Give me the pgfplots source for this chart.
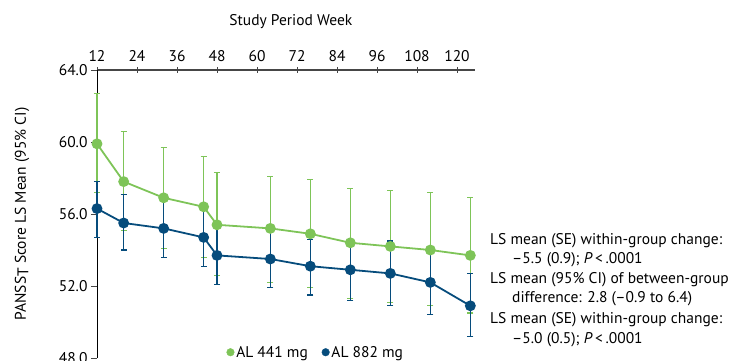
\documentclass[border=0pt]{standalone}
\usepackage{fontspec}
\setmainfont{PT Sans}
\usepackage{pgfplots}
\usepackage{pgfplotstable}
\pgfplotsset{compat=1.18}
\definecolor{alg}{RGB}{126,196,88}
\definecolor{alb}{RGB}{6,76,124}
\definecolor{axgray}{RGB}{70,70,70}
\pgfplotstableread{
x y ep em
12 59.9 2.8 2.7
20 57.8 2.8 2.7
32 56.9 2.8 2.8
44 56.4 2.8 2.8
48 55.4 2.9 2.8
64 55.2 2.9 3.0
76 54.9 3.0 3.0
88 54.4 3.0 3.1
100 54.2 3.1 3.1
112 54.0 3.2 3.1
124 53.7 3.2 3.2
}\greendata
\pgfplotstableread{
x y ep em
12 56.3 1.5 1.6
20 55.5 1.6 1.5
32 55.2 1.6 1.6
44 54.7 1.6 1.6
48 53.7 1.6 1.6
64 53.5 1.6 1.6
76 53.1 1.5 1.6
88 52.9 1.7 1.7
100 52.7 1.8 1.8
112 52.2 1.8 1.8
124 50.9 1.8 1.7
}\bluedata
\newcommand\myfont{\fontsize{15.5bp}{18bp}\selectfont}
\begin{document}
\begin{tikzpicture}[font=\myfont]
\useasboundingbox (-97bp,-3bp) rectangle (634bp,358bp);
\begin{axis}[
  at={(0,0)}, anchor=south west,
  scale only axis, width=378bp, height=288bp,
  font=\myfont,
  xmin=12, xmax=125.4, ymin=48, ymax=64,
  axis x line=top, axis y line=left,
  x axis line style={axgray, line width=1.2pt, -},
  y axis line style={black, line width=0.8pt, -},
  xtick={12,24,...,120},
  xticklabels={12,24,36,48,60,72,84,96,108,120},
  ytick={48,52,56,60,64},
  yticklabels={48.0,52.0,56.0,60.0,64.0},
  major tick length=6bp,
  tick style={axgray, line width=0.9pt},
  xtick align=center,
  ytick align=outside,
  xticklabel style={yshift=2bp, font=\myfont},
  yticklabel style={font=\myfont},
  clip=false,
  xlabel={Study Period Week},
  every axis x label/.style={at={(axis description cs:0.513,1.167)}, anchor=center, font=\myfont},
  ylabel={PANSS\raisebox{-0.3ex}{T} Score LS Mean (95\% CI)},
  every axis y label/.style={at={(axis description cs:-0.198,0.5)}, rotate=90, anchor=center, font=\myfont},
  legend style={at={(axis description cs:0.579,0.02)}, anchor=center, draw=none, fill=none,
    legend columns=2, /tikz/every even column/.append style={column sep=12bp},
    inner sep=0pt, font=\myfont},
  legend cell align=left,
]
\addlegendimage{only marks, mark=*, alg, mark size=3.8bp}
\addlegendentry{AL 441 mg}
\addlegendimage{only marks, mark=*, alb, mark size=3.8bp}
\addlegendentry{AL 882 mg}
\addplot[alg, line width=1.8pt, mark=*, mark size=4.5bp, forget plot,
  error bars/.cd, y dir=both, y explicit,
  error bar style={alg, line width=1.1pt},
  error mark options={alg, rotate=90, mark size=3bp, line width=1.1pt}]
  table[x=x, y=y, y error plus=ep, y error minus=em] {\greendata};
\addplot[alb, line width=1.8pt, mark=*, mark size=4.5bp, forget plot,
  error bars/.cd, y dir=both, y explicit,
  error bar style={alb, line width=1.1pt},
  error mark options={alb, rotate=90, mark size=3bp, line width=1.1pt}]
  table[x=x, y=y, y error plus=ep, y error minus=em] {\bluedata};
\end{axis}
\node[anchor=base west, inner sep=0pt] at (393bp,113bp) {LS mean (SE) within-group change:};
\node[anchor=base west, inner sep=0pt] at (415bp,94bp) {–5.5 (0.9); \textit{P}\,<\,.0001};
\node[anchor=base west, inner sep=0pt] at (393bp,74bp) {LS mean (95\% CI) of between-group};
\node[anchor=base west, inner sep=0pt] at (415bp,55bp) {difference: 2.8 (–0.9 to 6.4)};
\node[anchor=base west, inner sep=0pt] at (393bp,35bp) {LS mean (SE) within-group change:};
\node[anchor=base west, inner sep=0pt] at (415bp,15bp) {–5.0 (0.5); \textit{P}\,<\,.0001};
\end{tikzpicture}
\end{document}
